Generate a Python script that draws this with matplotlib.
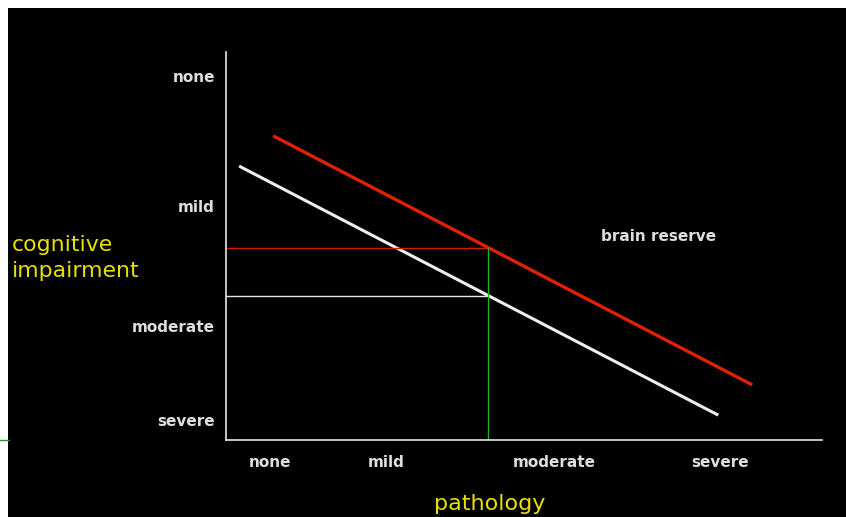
import matplotlib.pyplot as plt
from matplotlib.lines import Line2D
from matplotlib.patches import Rectangle

# category positions on the two axes (axis units 0..10)
x_labels = ['none', 'mild', 'moderate', 'severe']
x_pos = [0.74, 2.68, 5.50, 8.29]
y_labels = ['severe', 'moderate', 'mild', 'none']
y_pos = [0.52, 2.94, 6.03, 9.38]

# the two decline lines: (start, end)
normal_x = [0.22, 8.26]
normal_y = [7.06, 0.64]
reserve_x = [0.79, 8.83]
reserve_y = [7.84, 1.42]

# same pathology level, read across to both lines
path_level = 4.40
reserve_at = 4.96
normal_at = 3.72

fg = '#e6e6e6'
yellow = '#e8e000'

fig = plt.figure(figsize=(8.46, 5.17), dpi=100, facecolor='white')
fig.patches.append(Rectangle((8 / 846, 0), 1, 509 / 517, transform=fig.transFigure,
                             facecolor='black', edgecolor='none', zorder=-5))
fig.lines.append(Line2D([0, 9 / 846], [1 - 440 / 517] * 2, transform=fig.transFigure,
                        color='#2e8b2e', lw=1, zorder=-4))

ax = fig.add_axes([226 / 846, 1 - 440 / 517, 596 / 846, 388 / 517])
ax.set_facecolor('black')
ax.set_xlim(0, 10)
ax.set_ylim(0, 10)
for side in ['top', 'right']:
    ax.spines[side].set_visible(False)
for side in ['left', 'bottom']:
    ax.spines[side].set_color(fg)
    ax.spines[side].set_linewidth(1.2)

ax.plot(reserve_x, reserve_y, color='#e02000', lw=2.4, solid_capstyle='butt')
ax.plot(normal_x, normal_y, color='#eeeeee', lw=2.2, solid_capstyle='butt')
ax.plot([0, path_level], [reserve_at] * 2, color='#d02000', lw=1)
ax.plot([0, path_level], [normal_at] * 2, color=fg, lw=1)
ax.plot([path_level] * 2, [0, reserve_at], color='#22b022', lw=1)

ax.set_xticks(x_pos, x_labels)
ax.set_yticks(y_pos, y_labels)
ax.tick_params(length=0, colors='#dedede', labelsize=11)
ax.tick_params(axis='x', pad=11)
ax.tick_params(axis='y', pad=8)
for lbl in ax.get_xticklabels() + ax.get_yticklabels():
    lbl.set_fontweight('bold')

ax.text(6.29, 5.25, 'brain reserve', color='#dedede', fontsize=11,
        fontweight='bold', va='center')
fig.text(12 / 846, 1 - 258 / 517, 'cognitive\nimpairment', color=yellow,
         fontsize=15.8, va='center', ha='left', linespacing=1.35)
fig.text(490 / 846, 1 - 504 / 517, 'pathology', color=yellow,
         fontsize=16, va='center', ha='center')

fig.savefig('out.png', dpi=100, facecolor=fig.get_facecolor())
